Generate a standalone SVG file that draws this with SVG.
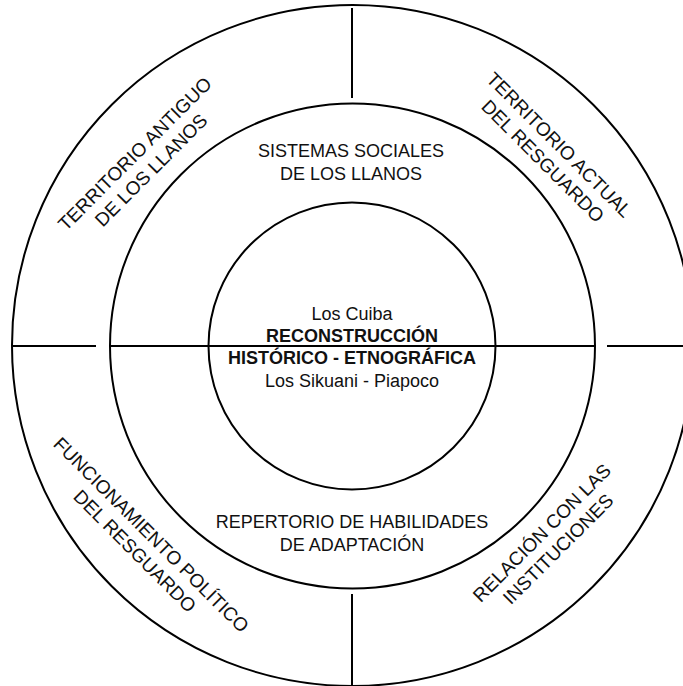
<svg xmlns="http://www.w3.org/2000/svg" width="683" height="686" viewBox="0 0 683 686">
  <style>
    .ring { fill: none; stroke: #000; stroke-width: 2; }
    .line { stroke: #000; stroke-width: 2; fill: none; }
    text { font-family: "Liberation Sans", Arial, sans-serif; fill: #111; text-anchor: middle; }
    .lbl { font-size: 18px; }
    .rot { font-size: 19px; }
    .bold { font-weight: bold; }
  </style>
  <rect width="683" height="686" fill="#fff"/>
  <g id="rings">
    <circle class="ring" cx="352.5" cy="345.5" r="340.5"/>
    <circle class="ring" cx="352.5" cy="346" r="242.5"/>
    <circle class="ring" cx="352" cy="346" r="143.5"/>
  </g>
  <g id="connectors">
    <line class="line" x1="352" y1="8" x2="352" y2="98"/>
    <line class="line" x1="352" y1="594" x2="352" y2="685"/>
    <line class="line" x1="12" y1="346" x2="96" y2="346"/>
    <line class="line" x1="607" y1="346" x2="690" y2="346"/>
    <line class="line" x1="110" y1="346" x2="595" y2="346"/>
  </g>
  <g id="node-territorio-antiguo" transform="translate(143,162) rotate(-45)">
    <text class="rot" x="0" y="-5">TERRITORIO ANTIGUO</text>
    <text class="rot" x="0" y="18">DE LOS LLANOS</text>
  </g>
  <g id="node-territorio-actual" transform="translate(551,153) rotate(45)">
    <text class="rot" x="0" y="-5">TERRITORIO ACTUAL</text>
    <text class="rot" x="0" y="18">DEL RESGUARDO</text>
  </g>
  <g id="node-funcionamiento" transform="translate(143,543) rotate(45)">
    <text class="rot" x="0" y="-5">FUNCIONAMIENTO POLÍTICO</text>
    <text class="rot" x="0" y="18">DEL RESGUARDO</text>
  </g>
  <g id="node-relacion" transform="translate(550,541) rotate(-45)">
    <text class="rot" x="0" y="-5">RELACIÓN CON LAS</text>
    <text class="rot" x="0" y="18">INSTITUCIONES</text>
  </g>
  <g id="node-sistemas-sociales">
    <text class="lbl" x="351" y="157">SISTEMAS SOCIALES</text>
    <text class="lbl" x="351" y="180">DE LOS LLANOS</text>
  </g>
  <g id="node-repertorio">
    <text class="lbl" x="352" y="528">REPERTORIO DE HABILIDADES</text>
    <text class="lbl" x="352" y="551">DE ADAPTACIÓN</text>
  </g>
  <g id="node-centro">
    <text class="lbl" x="352" y="320">Los Cuiba</text>
    <text class="lbl bold" x="352" y="342">RECONSTRUCCIÓN</text>
    <text class="lbl bold" x="352" y="364">HISTÓRICO - ETNOGRÁFICA</text>
    <text class="lbl" x="352" y="387">Los Sikuani - Piapoco</text>
  </g>
</svg>
